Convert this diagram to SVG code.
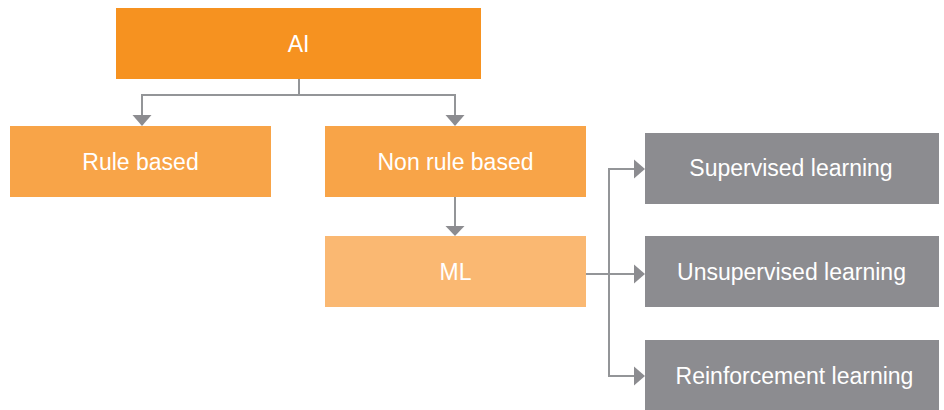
<svg xmlns="http://www.w3.org/2000/svg" width="944" height="410" viewBox="0 0 944 410">
  <defs>
    <style>
      .lbl { font-family: "Liberation Sans", Arial, sans-serif; font-size: 23px; fill: #ffffff; text-anchor: middle; dominant-baseline: central; }
      .wire { fill: none; stroke: #939598; stroke-width: 2; }
      .head { fill: #8c8c90; }
    </style>
  </defs>
  <rect width="944" height="410" fill="#ffffff"/>

  <!-- connectors -->
  <g id="connectors">
    <polyline class="wire" points="299,79 299,95 142,95 142,117"/>
    <polyline class="wire" points="299,95 455,95 455,117"/>
    <polygon class="head" points="132.5,115 151.5,115 142,126"/>
    <polygon class="head" points="445.5,115 464.5,115 455,126"/>

    <line class="wire" x1="455" y1="197" x2="455" y2="227"/>
    <polygon class="head" points="445.5,226 464.5,226 455,236"/>

    <line class="wire" x1="586" y1="274" x2="636" y2="274"/>
    <polyline class="wire" points="636,169 609,169 609,376 636,376"/>
    <polygon class="head" points="634,159.5 645,169 634,178.5"/>
    <polygon class="head" points="634,264.5 645,274 634,283.5"/>
    <polygon class="head" points="634,366.5 645,376 634,385.5"/>
  </g>

  <g id="ai">
    <rect x="116" y="8" width="365" height="71" fill="#f69220"/>
    <text class="lbl" x="298.5" y="44">AI</text>
  </g>
  <g id="rule-based">
    <rect x="10" y="126" width="261" height="71" fill="#f8a448"/>
    <text class="lbl" x="140.5" y="162">Rule based</text>
  </g>
  <g id="non-rule-based">
    <rect x="325" y="126" width="261" height="71" fill="#f8a448"/>
    <text class="lbl" x="455.5" y="162">Non rule based</text>
  </g>
  <g id="ml">
    <rect x="325" y="236" width="261" height="71" fill="#fab872"/>
    <text class="lbl" x="455.5" y="272">ML</text>
  </g>
  <g id="supervised">
    <rect x="645" y="133" width="294" height="71" fill="#8c8c90"/>
    <text class="lbl" x="791" y="168">Supervised learning</text>
  </g>
  <g id="unsupervised">
    <rect x="645" y="236" width="294" height="71" fill="#8c8c90"/>
    <text class="lbl" x="791.5" y="272">Unsupervised learning</text>
  </g>
  <g id="reinforcement">
    <rect x="645" y="340" width="294" height="70" fill="#8c8c90"/>
    <text class="lbl" x="794.5" y="376">Reinforcement learning</text>
  </g>
</svg>
